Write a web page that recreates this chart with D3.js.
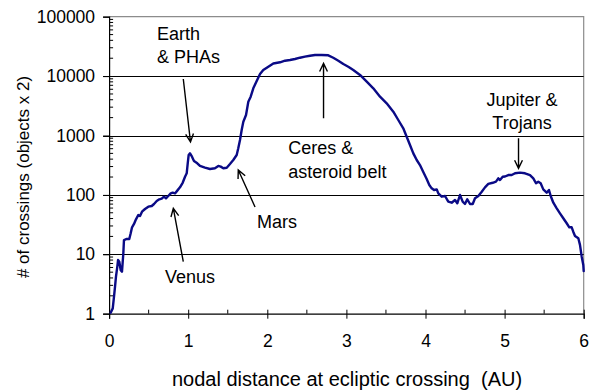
<!DOCTYPE html>
<html>
<head>
<meta charset="utf-8">
<script src="https://cdn.jsdelivr.net/npm/d3@7"></script>
<style>
  html, body { margin: 0; padding: 0; background: #fff; }
  svg { display: block; }
  text { font-family: "Liberation Sans", Arial, sans-serif; fill: #000; }
</style>
</head>
<body>
<svg id="chart" width="589" height="391"></svg>
<script>
// Nodal distance at ecliptic crossing (AU)
const distance = [
  0.020, 0.046, 0.062, 0.075, 0.087, 0.104, 0.113, 0.129, 0.147, 0.163,
  0.180, 0.188, 0.223, 0.255, 0.273, 0.290, 0.315, 0.340, 0.369, 0.391,
  0.416, 0.454, 0.496, 0.539, 0.568, 0.602, 0.635, 0.665, 0.694, 0.719,
  0.748, 0.779, 0.804, 0.833, 0.862, 0.896, 0.930, 0.960, 0.981, 0.994,
  1.006, 1.023, 1.048, 1.073, 1.115, 1.149, 1.212, 1.275, 1.338, 1.381,
  1.411, 1.444, 1.487, 1.528, 1.570, 1.613, 1.633, 1.655, 1.676, 1.697,
  1.731, 1.760, 1.790, 1.823, 1.866, 1.908, 1.949, 2.013, 2.076, 2.161,
  2.224, 2.287, 2.350, 2.413, 2.476, 2.540, 2.603, 2.688, 2.771, 2.834,
  2.898, 2.961, 3.024, 3.087, 3.172, 3.257, 3.340, 3.425, 3.509, 3.593,
  3.656, 3.719, 3.762, 3.804, 3.846, 3.889, 3.930, 3.972, 4.015, 4.048,
  4.078, 4.108, 4.142, 4.162, 4.205, 4.247, 4.288, 4.331, 4.373, 4.402,
  4.436, 4.470, 4.499, 4.528, 4.563, 4.597, 4.626, 4.668, 4.711, 4.752,
  4.794, 4.850, 4.891, 4.920, 4.942, 4.976, 5.005, 5.047, 5.090, 5.132,
  5.195, 5.258, 5.321, 5.363, 5.397, 5.426, 5.456, 5.489, 5.532, 5.561,
  5.583, 5.616, 5.659, 5.700, 5.742, 5.785, 5.818, 5.848, 5.868, 5.890,
  5.932, 5.953, 5.975, 5.995, 6.000
];

// Number of crossings (objects x 2)
const crossings = [
  1.04, 1.23, 1.93, 2.85, 4.2, 6.2, 8.0, 7.5, 5.4, 5.1,
  10.4, 17.4, 18.1, 18.1, 22.6, 28.5, 32.4, 38.8, 45.9, 44.2,
  52.2, 57.9, 63.3, 65.0, 70.3, 78.9, 84.3, 86.3, 93.3, 87.7,
  95.8, 106, 109, 106, 118, 134, 160, 202, 231, 340,
  470, 501, 440, 372, 340, 307, 287, 273, 281, 307,
  299, 281, 287, 331, 387, 470, 609, 840, 1238, 1708,
  2213, 3704, 4500, 6233, 8300, 10840, 12670, 14400, 16300, 17070,
  18160, 18660, 19400, 20400, 21230, 22050, 22660, 22660, 22400, 20400,
  18160, 15990, 14400, 12670, 10450, 8050, 6233, 4500, 3484, 2518,
  1824, 1322, 955, 692, 501, 387, 318, 243, 185, 147,
  129, 121, 124, 106, 93.3, 95.8, 76.9, 73.9, 82.1, 72.3,
  99.6, 76.9, 70.3, 84.3, 70.3, 70.3, 87.7, 95.8, 113, 134,
  153, 160, 167, 190, 178, 202, 204, 216, 216, 231,
  237, 231, 216, 190, 157, 167, 157, 124, 109, 121,
  95.8, 73.9, 59.5, 49.0, 40.4, 33.3, 28.5, 28.5, 24.0, 20.3,
  18.6, 14.4, 9.1, 6.6, 5.2
];

const xTicks = [0, 1, 2, 3, 4, 5, 6];
const xMinorTicks = [0.5, 1.5, 2.5, 3.5, 4.5, 5.5];
const yTicks = [1, 10, 100, 1000, 10000, 100000];
const yTickLabels = ["1", "10", "100", "1000", "10000", "100000"];

const xTitle = "nodal distance at ecliptic crossing  (AU)";
const yTitle = "# of crossings (objects x 2)";

// Callouts, placed in data coordinates (AU, crossings)
const callouts = [
  { lines: ["Earth", "& PHAs"], tx: 0.606, ty: [40600, 16600], anchor: "start",
    from: [0.938, 8940], to: [1.029, 778] },
  { lines: ["Ceres &", "asteroid belt"], tx: 2.266, ty: [488, 193], anchor: "start",
    from: [2.711, 1950], to: [2.711, 16400] },
  { lines: ["Jupiter &", "Trojans"], tx: 5.220, ty: [3140, 1286], anchor: "middle",
    from: [5.176, 897], to: [5.176, 280] },
  { lines: ["Mars"], tx: 1.870, ty: [27.7], anchor: "start",
    from: [1.845, 62.6], to: [1.633, 262] },
  { lines: ["Venus"], tx: 0.707, ty: [3.29], anchor: "start",
    from: [0.938, 7.5], to: [0.812, 59.5] }
];

const svg = d3.select("#chart");
const plot = { left: 109.1, right: 583.7, top: 16.7, bottom: 313.7 };

const x = d3.scaleLinear().domain([0, 6]).range([plot.left, plot.right]);
const y = d3.scaleLog().domain([1, 100000]).range([plot.bottom, plot.top]);

const TICK_FONT = 17.5;
const NOTE_FONT = 18;
const XTITLE_FONT = 20;
const YTITLE_FONT = 17;

// Plot-area frame (top and right edges)
svg.append("path")
  .attr("d", `M${plot.left},${plot.top}H${plot.right}V${plot.bottom}`)
  .attr("fill", "none").attr("stroke", "#8c8c8c").attr("stroke-width", 1.2);

// Horizontal gridlines at each decade, extended over the outside tick
svg.append("g").selectAll("line")
  .data(yTicks.slice(1, -1))
  .join("line")
  .attr("x1", plot.left - 6).attr("x2", plot.right)
  .attr("y1", d => Math.round(y(d)) + 0.5).attr("y2", d => Math.round(y(d)) + 0.5)
  .attr("stroke", "#000").attr("stroke-width", 1);

// Y axis: major ticks outside, log minor ticks inside
const yMajor = d3.axisLeft(y).tickValues(yTicks)
  .tickFormat((d, i) => yTickLabels[i]).tickSize(6).tickPadding(8);
const yAxisG = svg.append("g").attr("transform", `translate(${plot.left},0)`).call(yMajor);
yAxisG.select(".domain").attr("stroke", "#000").attr("stroke-width", 1.2);
yAxisG.selectAll("text").style("font-size", TICK_FONT + "px")
  .style("font-family", '"Liberation Sans", Arial, sans-serif');

const yMinorVals = [];
for (let e = 0; e < 5; e++) for (let m = 2; m <= 9; m++) yMinorVals.push(m * Math.pow(10, e));
svg.append("g").selectAll("line")
  .data(yMinorVals)
  .join("line")
  .attr("x1", plot.left).attr("x2", plot.left + 4)
  .attr("y1", d => y(d)).attr("y2", d => y(d))
  .attr("stroke", "#000").attr("stroke-width", 1);

// X axis: major ticks cross the axis, minor ticks inside
const xMajor = d3.axisBottom(x).tickValues(xTicks).tickFormat(d3.format("d"))
  .tickSize(5).tickPadding(15.5);
const xAxisG = svg.append("g").attr("transform", `translate(0,${plot.bottom})`).call(xMajor);
xAxisG.select(".domain").attr("stroke", "#000").attr("stroke-width", 1.2);
xAxisG.selectAll(".tick line").attr("y1", -4);
xAxisG.selectAll("text").style("font-size", TICK_FONT + "px")
  .style("font-family", '"Liberation Sans", Arial, sans-serif');

svg.append("g").selectAll("line")
  .data(xMinorTicks)
  .join("line")
  .attr("x1", d => x(d)).attr("x2", d => x(d))
  .attr("y1", plot.bottom - 4).attr("y2", plot.bottom)
  .attr("stroke", "#000").attr("stroke-width", 1);

// Axis titles
svg.append("text")
  .attr("x", 347).attr("y", 386)
  .attr("text-anchor", "middle")
  .style("font-size", XTITLE_FONT + "px").style("white-space", "pre")
  .text(xTitle);

svg.append("text")
  .attr("transform", `translate(29,177) rotate(-90)`)
  .attr("text-anchor", "middle")
  .style("font-size", YTITLE_FONT + "px")
  .text(yTitle);

// Crossing-count curve
const series = distance.map((d, i) => ({ x: d, y: crossings[i] }));
svg.append("path")
  .datum(series)
  .attr("fill", "none")
  .attr("stroke", "#0a0a86")
  .attr("stroke-width", 2.4)
  .attr("stroke-linejoin", "round")
  .attr("stroke-linecap", "round")
  .attr("d", d3.line().x(d => x(d.x)).y(d => y(d.y)));

// Callout text and arrows
const cg = svg.append("g");
callouts.forEach(c => {
  c.lines.forEach((ln, i) => {
    cg.append("text")
      .attr("x", x(c.tx)).attr("y", y(c.ty[i]))
      .attr("text-anchor", c.anchor)
      .style("font-size", NOTE_FONT + "px")
      .text(ln);
  });
  const x1 = x(c.from[0]), y1 = y(c.from[1]);
  const x2 = x(c.to[0]), y2 = y(c.to[1]);
  const ang = Math.atan2(y2 - y1, x2 - x1);
  const L = 9, spread = 0.45;
  const ax = x2 - L * Math.cos(ang - spread), ay = y2 - L * Math.sin(ang - spread);
  const bx = x2 - L * Math.cos(ang + spread), by = y2 - L * Math.sin(ang + spread);
  cg.append("path")
    .attr("d", `M${x1},${y1}L${x2},${y2}M${ax},${ay}L${x2},${y2}L${bx},${by}`)
    .attr("fill", "none").attr("stroke", "#000").attr("stroke-width", 1.4);
});
</script>
</body>
</html>
